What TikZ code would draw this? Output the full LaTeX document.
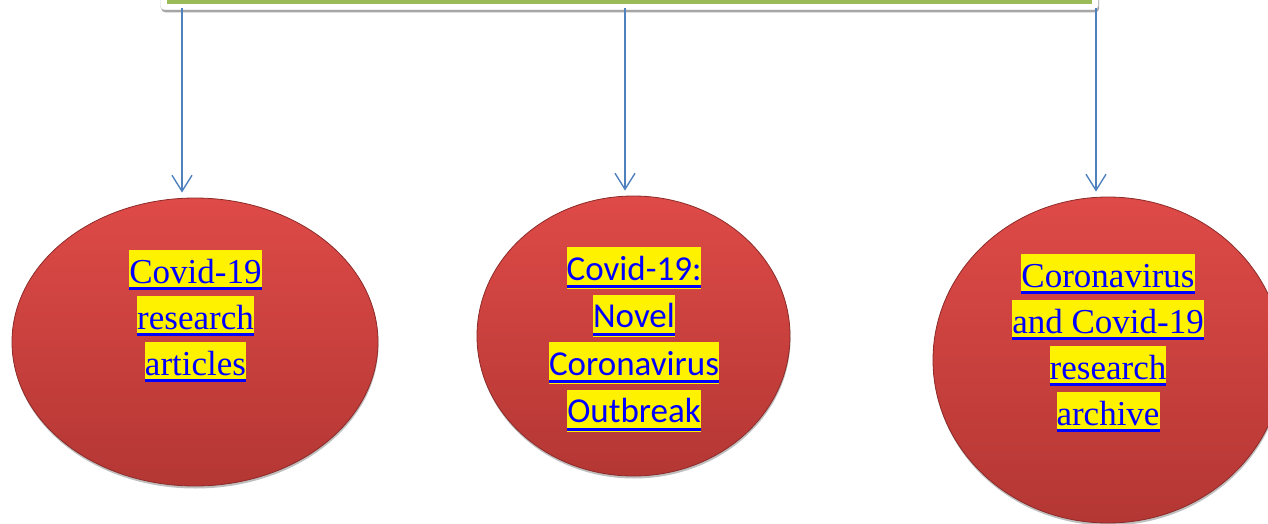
\documentclass[tikz,border=0pt]{standalone}
\usepackage{fontspec}
\setmainfont{Liberation Serif}
\newfontfamily\calfont{Carlito}
\usetikzlibrary{shapes.geometric,arrows.meta,shadows}
\definecolor{arrblue}{HTML}{4F81BD}
\definecolor{barg}{HTML}{9BBB59}
\definecolor{redtop}{HTML}{DE4A47}
\definecolor{redbot}{HTML}{B43734}
\definecolor{redrim}{HTML}{8C2B29}
\newsavebox\lkbox
\newcommand\lkT[1]{\sbox\lkbox{#1}{\setlength{\fboxsep}{0pt}\colorbox{yellow}{\rule[-7pt]{0pt}{40pt}\rlap{\color{blue}\rule[-6.5pt]{\wd\lkbox}{3pt}}\usebox\lkbox}}}
\newcommand\lkC[1]{\sbox\lkbox{#1}{\setlength{\fboxsep}{0pt}\colorbox{yellow}{\rule[-9pt]{0pt}{42pt}\rlap{\color{blue}\rule[-8pt]{\wd\lkbox}{3pt}}\usebox\lkbox}}}
\begin{document}
\begin{tikzpicture}[x=1pt,y=-1pt,
  ball/.style={ellipse, inner sep=0pt, draw=redrim, line width=0.8pt,
    top color=redtop, bottom color=redbot,
    drop shadow={shadow xshift=0.5pt, shadow yshift=-2.5pt, opacity=0.25, fill=black}},
  txt/.style={anchor=north, inner sep=0pt, align=center, text=blue},
  arr/.style={draw=arrblue, line width=1.4pt, -{Straight Barb[length=16pt,width=20pt,line width=1.4pt]}}
]
\useasboundingbox (0,0) rectangle (1268,524);
% top box
\node[draw=gray!35, fill=white, rounded corners=4pt, inner sep=0pt,
  minimum width=938pt, minimum height=50pt, anchor=south west,
  drop shadow={shadow xshift=1pt, shadow yshift=-2.5pt, opacity=0.35, fill=black}] (top) at (160,10) {};
\fill[barg] (167,-40) rectangle (1092,4);
% ellipses
\node[ball, minimum width=366pt, minimum height=288pt] (e1) at (195,342) {};
\node[ball, minimum width=313pt, minimum height=280pt] (e2) at (633.5,336) {};
\node[ball, minimum width=350pt, minimum height=326pt] (e3) at (1108,360) {};
% texts
\node[txt, font=\fontsize{35pt}{46pt}\selectfont] (t1) at (195.5,250)
  {\lkT{Covid-19}\\\lkT{research}\\\lkT{articles}};
\node[txt, font=\calfont\fontsize{35pt}{47.5pt}\selectfont] (t2) at (634,247)
  {\lkC{Covid-19:}\\\lkC{Novel}\\\lkC{Coronavirus}\\\lkC{Outbreak}};
\node[txt, font=\fontsize{35pt}{46pt}\selectfont] (t3) at (1108,254)
  {\lkT{Coronavirus}\\\lkT{and Covid-19}\\\lkT{research}\\\lkT{archive}};
% connectors
\coordinate (s1) at (182,8);
\coordinate (s2) at (625,8);
\coordinate (s3) at (1096,8);
\draw[arr, shorten >=5pt] (s1) -- (e1.north -| s1);
\draw[arr, shorten >=5pt] (s2) -- (e2.north -| s2);
\draw[arr, shorten >=5pt] (s3) -- (e3.north -| s3);
\end{tikzpicture}
\end{document}
